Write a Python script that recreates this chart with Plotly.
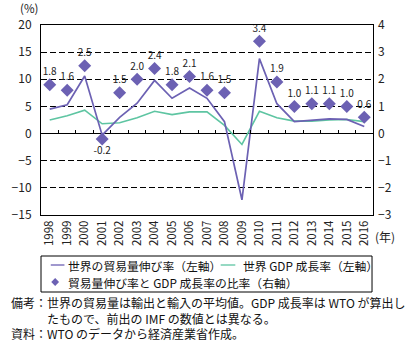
import plotly.graph_objects as go

# ---- data -------------------------------------------------------------
years = ["1998", "1999", "2000", "2001", "2002", "2003", "2004", "2005", "2006", "2007",
         "2008", "2009", "2010", "2011", "2012", "2013", "2014", "2015", "2016"]
trade_growth = [4.5, 5.3, 10.6, -0.3, 3.0, 5.6, 9.8, 6.5, 8.4, 6.5,
                2.2, -12.2, 13.8, 5.5, 2.2, 2.5, 2.7, 2.6, 1.3]
gdp_growth = [2.5, 3.3, 4.3, 1.8, 2.0, 2.9, 4.1, 3.5, 4.0, 4.0,
              1.5, -2.0, 4.1, 2.9, 2.3, 2.3, 2.5, 2.6, 2.2]
ratio = [1.8, 1.6, 2.5, -0.2, 1.5, 2.0, 2.4, 1.8, 2.1, 1.6,
         1.5, None, 3.4, 1.9, 1.0, 1.1, 1.1, 1.0, 0.6]
ratio_label_pos = ["top center"] * 19
ratio_label_pos[3] = "bottom center"

left_ticks = [-15, -10, -5, 0, 5, 10, 15, 20]
right_ticks = [-3, -2, -1, 0, 1, 2, 3, 4]

name_trade = "世界の貿易量伸び率（左軸）"
name_gdp = "世界 GDP 成長率（左軸）"
name_ratio = "貿易量伸び率と GDP 成長率の比率（右軸）"
notes = ("備考：世界の貿易量は輸出と輸入の平均値。GDP 成長率は WTO が算出し<br>"
         "　　　たもので、前出の IMF の数値とは異なる。<br>"
         "資料：WTO のデータから経済産業省作成。")

PURPLE = "#6c61b3"
GREEN = "#5ec5a2"
FONT = "Noto Sans CJK JP"

# ---- page geometry (pixels) -------------------------------------------
W, H = 406, 342
L, R, T, B = 33, 33, 25, 127
PW, PH = W - L - R, H - T - B


def px(x):
    return (x - L) / PW


def py(y):
    return (H - B - y) / PH


fig = go.Figure()

fig.add_trace(go.Scatter(x=years, y=gdp_growth, mode="lines", name=name_gdp,
                         line=dict(color=GREEN, width=1.6)))
fig.add_trace(go.Scatter(x=years, y=trade_growth, mode="lines", name=name_trade,
                         line=dict(color=PURPLE, width=1.7)))
fig.add_trace(go.Scatter(x=years, y=ratio, mode="markers+text", name=name_ratio,
                         xaxis="x2", yaxis="y2",
                         marker=dict(symbol="diamond", size=10, color=PURPLE),
                         text=[("" if v is None else f"{v:.1f}") for v in ratio],
                         textposition=ratio_label_pos,
                         textfont=dict(family=FONT, size=10, color="#222")))

# ---- legend box drawn in the page ---------------------------------------
shapes = [
    dict(type="rect", xref="paper", yref="paper", x0=px(33), x1=px(372), y0=py(292), y1=py(256),
         line=dict(color="black", width=1), fillcolor="white", layer="above"),
    dict(type="line", xref="paper", yref="paper", x0=px(43), x1=px(57), y0=py(265), y1=py(265),
         line=dict(color=PURPLE, width=1.3)),
    dict(type="line", xref="paper", yref="paper", x0=px(217), x1=px(232), y0=py(265), y1=py(265),
         line=dict(color=GREEN, width=1.3)),
    dict(type="path", xref="paper", yref="paper",
         path=f"M {px(47.5)} {py(278)} L {px(51.5)} {py(282)} L {px(47.5)} {py(286)} L {px(43.5)} {py(282)} Z",
         fillcolor=PURPLE, line=dict(color=PURPLE, width=0)),
]

annotations = [
    dict(text=name_trade, x=px(59), y=py(265.5), font=dict(family=FONT, size=11.8, color="#111")),
    dict(text=name_gdp, x=px(238), y=py(265.5), font=dict(family=FONT, size=11.8, color="#111")),
    dict(text=name_ratio, x=px(59), y=py(282.5), font=dict(family=FONT, size=11.8, color="#111")),
    dict(text="(%)", x=px(9), y=py(8), font=dict(family=FONT, size=11.5, color="#222")),
    dict(text="(年)", x=px(373), y=py(237), font=dict(family=FONT, size=12, color="#222")),
    dict(text=notes, x=px(1), y=py(318), align="left", borderpad=0,
         font=dict(family=FONT, size=12, color="#111")),
]
for a in annotations:
    a.update(xref="paper", yref="paper", xanchor="left", yanchor="middle", showarrow=False)

fig.update_layout(
    width=W, height=H,
    margin=dict(l=L, r=R, t=T, b=B, pad=0),
    paper_bgcolor="white", plot_bgcolor="white",
    font=dict(family=FONT, size=11, color="#222"),
    showlegend=False,
    shapes=shapes,
    annotations=annotations,
    xaxis=dict(type="category", categoryorder="array", categoryarray=years,
               range=[-0.5, len(years) - 0.5],
               showgrid=False, zeroline=False, ticks="",
               tickangle=-90, tickfont=dict(family=FONT, size=11.5, color="#222"),
               showline=True, linecolor="black", linewidth=1, mirror=True),
    xaxis2=dict(type="category", categoryorder="array", categoryarray=years,
                range=[-0.5, len(years) - 0.5], overlaying="x",
                anchor="free", position=(0 - left_ticks[0]) / (left_ticks[-1] - left_ticks[0]),
                showgrid=False, zeroline=False, showline=False,
                ticks="inside", tickson="boundaries", ticklen=4, tickcolor="black",
                showticklabels=False),
    yaxis=dict(range=[left_ticks[0], left_ticks[-1]], tickvals=left_ticks,
               showgrid=True, gridcolor="#000000", gridwidth=1, griddash="6px,3px",
               zeroline=True, zerolinecolor="black", zerolinewidth=1,
               showline=True, linecolor="black", linewidth=1, mirror=True,
               ticks="", ticklabelstandoff=6,
               tickfont=dict(family=FONT, size=12, color="#222")),
    yaxis2=dict(range=[right_ticks[0], right_ticks[-1]], tickvals=right_ticks,
                overlaying="y", side="right", anchor="x2",
                showgrid=False, zeroline=False, showline=False, ticks="",
                ticklabelstandoff=4,
                tickfont=dict(family=FONT, size=12, color="#222")),
)

fig.write_html("out.html")
